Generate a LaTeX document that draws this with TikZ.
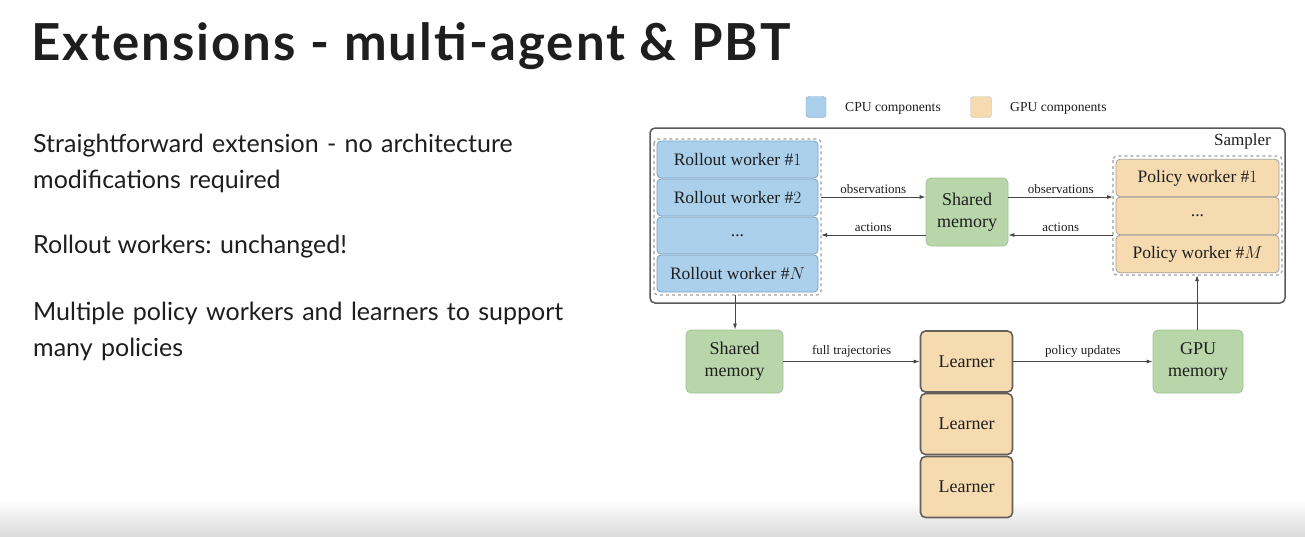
\documentclass[tikz,border=0pt]{standalone}
\usepackage{fontspec}
\setmainfont{Liberation Serif}
\newfontfamily\slidefont{Lato}
\newfontfamily\titlefont[LetterSpace=4]{Lato}
\usetikzlibrary{arrows.meta,calc}
\definecolor{cpublue}{RGB}{170,208,236}
\definecolor{cpuedge}{RGB}{120,160,190}
\definecolor{gpuorange}{RGB}{246,219,176}
\definecolor{gpuedge}{RGB}{100,95,90}
\definecolor{memgreen}{RGB}{184,214,170}
\definecolor{memedge}{RGB}{160,195,150}
\definecolor{linegray}{RGB}{70,70,70}
\definecolor{textdark}{RGB}{30,30,30}
\tikzset{
  x=1pt, y=-1pt,
  cpubox/.style={draw=cpuedge, line width=0.8pt, fill=cpublue, rounded corners=4pt, minimum width=161pt, minimum height=37pt, inner sep=0pt, font=\fontsize{17.5}{20}\selectfont, text=textdark},
  gpubox/.style={draw=gpuedge!60, line width=0.8pt, fill=gpuorange, rounded corners=4pt, minimum width=163pt, minimum height=37.5pt, inner sep=0pt, font=\fontsize{17.5}{20}\selectfont, text=textdark},
  learnerbox/.style={draw=gpuedge, line width=1.6pt, fill=gpuorange, rounded corners=5pt, minimum width=92pt, minimum height=61pt, inner sep=0pt, font=\fontsize{18}{20}\selectfont, text=textdark},
  membox/.style={draw=memedge, line width=0.8pt, fill=memgreen, rounded corners=5pt, inner sep=0pt, align=center, font=\fontsize{18}{22}\selectfont, text=textdark},
  groupbox/.style={draw=gray!75, dashed, line width=1.2pt, rounded corners=4pt},
  flow/.style={draw=linegray, line width=0.9pt, -{Latex[length=6pt,width=4pt]}},
  flowlabel/.style={font=\fontsize{13}{15}\selectfont, text=textdark, inner sep=1pt},
  legendlabel/.style={font=\fontsize{13.6}{15}\selectfont, text=textdark, inner sep=1pt, anchor=base west},
  bullet/.style={anchor=base west, font=\slidefont\fontsize{25}{36}\selectfont, text=textdark, inner sep=0pt, align=left},
}
\begin{document}
\begin{tikzpicture}
\useasboundingbox (0,0) rectangle (1305,536);
\fill[white] (0,0) rectangle (1305,536);
\shade[top color=white, bottom color=gray!28] (0,500) rectangle (1305,536);

% title and bullets
\node[anchor=base west, inner sep=0pt, font=\titlefont\bfseries\fontsize{51}{55}\selectfont, text=textdark] (title) at (31,60) {Extensions - multi-agent \& PBT};
\node[bullet, text width=600pt] (b1) at (33,152) {Straightforward extension - no architecture\\modifications required};
\node[bullet] (b2) at (33,253) {Rollout workers: unchanged!};
\node[bullet, text width=600pt] (b3) at (33,320) {Multiple policy workers and learners to support\\many policies};

% legend
\node[draw=cpuedge, fill=cpublue, rounded corners=3pt, minimum width=20pt, minimum height=21pt, inner sep=0pt] (legcpu) at (816,107) {};
\node[legendlabel] (legcputext) at (844,111) {CPU components};
\node[draw=gpuedge!40, fill=gpuorange, rounded corners=3pt, minimum width=21pt, minimum height=21pt, inner sep=0pt] (leggpu) at (981,107) {};
\node[legendlabel] (leggputext) at (1009,111) {GPU components};

% sampler
\draw[draw=gray!70!black, line width=1.5pt, rounded corners=5pt] (650,128) rectangle (1285,303);
\node[anchor=north east, font=\fontsize{17}{19}\selectfont, text=textdark, inner sep=0pt] (samplerlabel) at (1271,133) {Sampler};

% rollout workers
\draw[groupbox] (654,139) rectangle (821,295);
\node[cpubox] (r1) at (737.5,159.5) {Rollout worker $\#1$};
\node[cpubox] (r2) at (737.5,197.5) {Rollout worker $\#2$};
\node[cpubox] (r3) at (737.5,235.5) {...};
\node[cpubox] (rN) at (737.5,273.5) {Rollout worker $\#N$};

% shared memory
\node[membox, minimum width=82pt, minimum height=68pt] (sm1) at (967,212) {Shared\\memory};

% policy workers
\draw[groupbox] (1113,156) rectangle (1282,275);
\node[gpubox] (p1) at (1197.5,178) {Policy worker $\#1$};
\node[gpubox] (p2) at (1197.5,216) {...};
\node[gpubox] (pM) at (1197.5,254) {Policy worker $\#M$};

% arrows in sampler
\coordinate (rgE1) at (821,197);
\coordinate (rgE2) at (821,235);
\coordinate (pgW1) at (1113,197);
\coordinate (pgW2) at (1113,235);
\draw[flow] (rgE1) -- node[flowlabel, above=2pt] (lo1) {observations} (sm1.west |- rgE1);
\draw[flow] (sm1.west |- rgE2) -- node[flowlabel, above=2pt] (la1) {actions} (rgE2);
\draw[flow] (sm1.east |- rgE1) -- node[flowlabel, above=2pt] (lo2) {observations} (pgW1);
\draw[flow] (pgW2) -- node[flowlabel, above=2pt] (la2) {actions} (sm1.east |- pgW2);

% bottom row
\node[membox, minimum width=97pt, minimum height=63pt] (sm2) at (734.5,361.5) {Shared\\memory};
\node[learnerbox] (l1) at (966.5,361.5) {Learner};
\node[learnerbox] (l2) at (966.5,424) {Learner};
\node[learnerbox] (l3) at (966.5,487) {Learner};
\node[membox, minimum width=90pt, minimum height=63pt] (gpu) at (1198,361.5) {GPU\\memory};

\coordinate (rgS) at (735,295);
\coordinate (pgS) at (1197,275);
\draw[flow] (rgS) -- (sm2.north -| rgS);
\draw[flow] (gpu.north -| pgS) -- (pgS);
\draw[flow] (sm2.east) -- node[flowlabel, above=3pt] (lft) {full trajectories} (l1.west);
\draw[flow] (l1.east) -- node[flowlabel, above=3pt] (lpu) {policy updates} (gpu.west);
\end{tikzpicture}
\end{document}
